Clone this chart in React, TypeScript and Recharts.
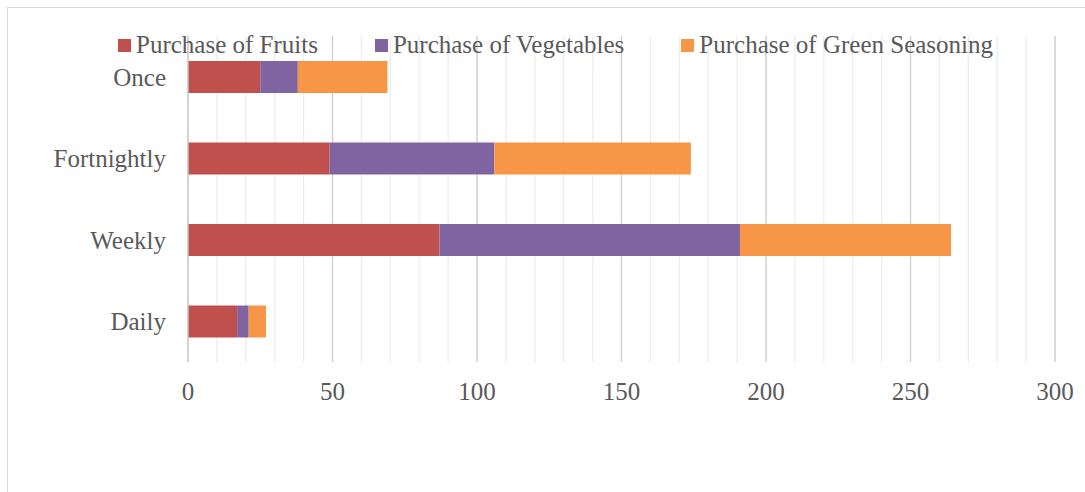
import React from "react";
import { BarChart, Bar, XAxis, YAxis, CartesianGrid } from "recharts";

const categories = ["Once", "Fortnightly", "Weekly", "Daily"];
const fruits = [25, 49, 87, 17];
const vegetables = [13, 57, 104, 4];
const greenSeasoning = [31, 68, 73, 6];
const seriesNames = ["Purchase of Fruits", "Purchase of Vegetables", "Purchase of Green Seasoning"];
const seriesKeys = ["fruits", "vegetables", "green"];
const seriesColors = ["#C0504D", "#8064A2", "#F79646"];
const majorTicks = [0, 50, 100, 150, 200, 250, 300];
const minorTicks = [0, 10, 20, 30, 40, 50, 60, 70, 80, 90, 100, 110, 120, 130, 140, 150, 160, 170, 180, 190, 200, 210, 220, 230, 240, 250, 260, 270, 280, 290, 300];

const data = categories.map((c, i) => ({
  name: c,
  fruits: fruits[i],
  vegetables: vegetables[i],
  green: greenSeasoning[i],
}));

const FONT = "'Liberation Serif', 'Times New Roman', serif";
const TEXT = "#595959";

export default function App() {
  return (
    <div
      style={{
        position: "absolute",
        left: 7,
        top: 7,
        width: 1077,
        height: 484,
        border: "1px solid #d9d9d9",
        background: "#fff",
        fontFamily: FONT,
      }}
    >
      <BarChart
        width={1077}
        height={484}
        data={data}
        layout="vertical"
        margin={{ top: 28, right: 30, bottom: 70, left: 0 }}
        barCategoryGap={0}
      >
        <CartesianGrid horizontal={false} vertical stroke="#ededed" strokeWidth={1.3} />
        <CartesianGrid
          horizontal={false}
          vertical
          stroke="#d0d0d0"
          strokeWidth={1.3}
          verticalValues={majorTicks}
        />
        <XAxis
          type="number"
          domain={[0, 300]}
          ticks={minorTicks}
          interval={0}
          tickFormatter={(v: number) => (majorTicks.includes(v) ? String(v) : "")}
          axisLine={false}
          tickLine={false}
          tickSize={0}
          tickMargin={20}
          height={60}
          tick={{ fill: TEXT, fontSize: 25, fontFamily: FONT }}
        />
        <YAxis
          type="category"
          dataKey="name"
          width={180}
          axisLine={{ stroke: "#d0d0d0", strokeWidth: 1.3 }}
          tickLine={false}
          tickSize={0}
          tickMargin={22}
          tick={{ fill: TEXT, fontSize: 25, fontFamily: FONT }}
        />
        {seriesKeys.map((k, i) => (
          <Bar
            key={k}
            dataKey={k}
            name={seriesNames[i]}
            stackId="a"
            fill={seriesColors[i]}
            barSize={32}
            isAnimationActive={false}
          />
        ))}
      </BarChart>
      <div
        style={{
          position: "absolute",
          left: 110,
          top: 22,
          display: "flex",
          alignItems: "center",
          fontFamily: FONT,
          fontSize: 25,
          color: TEXT,
          lineHeight: "30px",
          whiteSpace: "nowrap",
        }}
      >
        {seriesNames.map((n, i) => (
          <div key={n} style={{ display: "flex", alignItems: "center", marginRight: 57 }}>
            <span style={{ display: "inline-block", width: 13, height: 13, background: seriesColors[i], marginRight: 5 }} />
            <span>{n}</span>
          </div>
        ))}
      </div>
    </div>
  );
}
